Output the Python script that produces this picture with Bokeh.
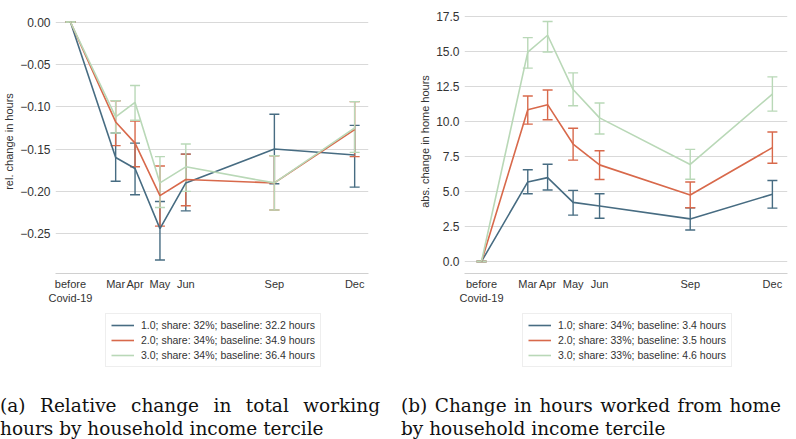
from bokeh.plotting import figure
from bokeh.models import (ColumnDataSource, Whisker, TeeHead, Legend, LegendItem,
                          FixedTicker, Range1d, Div)
from bokeh.layouts import column, row
from bokeh.embed import file_html
from bokeh.resources import INLINE

# ---------------- data ----------------
x_days = [0, 49, 70, 97, 125, 221, 308]
x_labels = ["before\nCovid-19", "Mar", "Apr", "May", "Jun", "Sep", "Dec"]

# (a) relative change in total working hours
rel_1 = [0.0, -0.160, -0.173, -0.244, -0.190, -0.150, -0.157]
rel_1_lo = [0.0, -0.188, -0.204, -0.281, -0.223, -0.191, -0.195]
rel_1_hi = [0.0, -0.131, -0.143, -0.212, -0.156, -0.109, -0.122]
rel_2 = [0.0, -0.118, -0.143, -0.205, -0.186, -0.190, -0.127]
rel_2_lo = [0.0, -0.146, -0.171, -0.241, -0.217, -0.222, -0.159]
rel_2_hi = [0.0, -0.093, -0.117, -0.170, -0.156, -0.158, -0.094]
rel_3 = [0.0, -0.112, -0.095, -0.190, -0.171, -0.190, -0.125]
rel_3_lo = [0.0, -0.131, -0.116, -0.219, -0.200, -0.222, -0.154]
rel_3_hi = [0.0, -0.093, -0.075, -0.159, -0.144, -0.158, -0.094]

# (b) absolute change in home hours
abs_1 = [0.0, 5.68, 5.99, 4.22, 3.96, 3.04, 4.80]
abs_1_lo = [0.0, 4.84, 5.11, 3.31, 3.09, 2.25, 3.81]
abs_1_hi = [0.0, 6.55, 6.95, 5.08, 4.84, 3.84, 5.78]
abs_2 = [0.0, 10.84, 11.20, 8.39, 6.90, 4.75, 8.13]
abs_2_lo = [0.0, 9.81, 10.12, 7.24, 5.85, 3.84, 7.02]
abs_2_hi = [0.0, 11.82, 12.25, 9.52, 7.91, 5.68, 9.25]
abs_3 = [0.0, 14.96, 16.16, 12.28, 10.26, 6.93, 11.96]
abs_3_lo = [0.0, 13.81, 14.96, 11.12, 9.11, 5.87, 10.74]
abs_3_hi = [0.0, 15.99, 17.14, 13.47, 11.32, 8.01, 13.19]

legend_a = ["1.0; share: 32%; baseline: 32.2 hours",
            "2.0; share: 34%; baseline: 34.9 hours",
            "3.0; share: 34%; baseline: 36.4 hours"]
legend_b = ["1.0; share: 34%; baseline: 3.4 hours",
            "2.0; share: 33%; baseline: 3.5 hours",
            "3.0; share: 33%; baseline: 4.6 hours"]

yticks_a = [0.0, -0.05, -0.10, -0.15, -0.20, -0.25]
yticks_b = [0.0, 2.5, 5.0, 7.5, 10.0, 12.5, 15.0, 17.5]

colors = ["#476c82", "#d8694b", "#b9d8b7"]

FONT = "Liberation Sans"
H_MAIN = 310
FRAME_BOTTOM = 273
H_LEG = 62
NAN = float("nan")


def make_panel(width, xr, yr, yticks, yfmt, ylabel, series, labels,
               left, right, leg_x):
    p = figure(width=width, height=H_MAIN, output_backend="svg",
               toolbar_location=None, x_range=Range1d(*xr), y_range=Range1d(*yr),
               min_border_left=left, min_border_right=right, min_border_top=9,
               min_border_bottom=H_MAIN - FRAME_BOTTOM)
    p.outline_line_color = None
    p.background_fill_color = "white"
    p.border_fill_color = "white"
    p.xgrid.visible = False
    p.ygrid.grid_line_color = "#d9d9d9"
    p.ygrid.grid_line_width = 1

    p.xaxis.ticker = FixedTicker(ticks=x_days)
    p.xaxis.major_label_overrides = {x: l for x, l in zip(x_days, x_labels)}
    p.xaxis.axis_line_color = "#d0d0d0"
    p.xaxis.axis_line_width = 1
    p.xaxis.major_tick_line_color = None
    p.xaxis.minor_tick_line_color = None
    p.xaxis.major_tick_out = 0
    p.xaxis.major_tick_in = 0
    p.xaxis.minor_tick_out = 0
    p.xaxis.major_label_text_font = FONT
    p.xaxis.major_label_text_font_size = "11px"
    p.xaxis.major_label_text_color = "#333333"
    p.xaxis.major_label_standoff = 4

    p.yaxis.ticker = FixedTicker(ticks=yticks)
    p.yaxis.major_label_overrides = {t: yfmt(t) for t in yticks}
    p.yaxis.axis_line_color = None
    p.yaxis.major_tick_line_color = None
    p.yaxis.minor_tick_line_color = None
    p.yaxis.major_tick_out = 0
    p.yaxis.major_tick_in = 0
    p.yaxis.minor_tick_out = 0
    p.yaxis.major_label_text_font = FONT
    p.yaxis.major_label_text_font_size = "12px"
    p.yaxis.major_label_text_color = "#333333"
    p.yaxis.major_label_standoff = 5
    p.yaxis.axis_label = ylabel
    p.yaxis.axis_label_text_font = FONT
    p.yaxis.axis_label_text_font_size = "11px"
    p.yaxis.axis_label_text_font_style = "normal"
    p.yaxis.axis_label_text_color = "#333333"
    p.yaxis.axis_label_standoff = 2

    for (y, lo, hi), c in zip(series, colors):
        src = ColumnDataSource(dict(x=x_days, y=y, lo=lo, hi=hi))
        p.line("x", "y", source=src, line_color=c, line_width=1.6)
        w = Whisker(base="x", lower="lo", upper="hi", source=src,
                    line_color=c, line_width=1.4,
                    upper_head=TeeHead(size=10, line_color=c, line_width=1.4),
                    lower_head=TeeHead(size=10, line_color=c, line_width=1.4))
        p.add_layout(w)

    # legend panel below the chart (its frame is aligned with the chart's frame)
    q = figure(width=width, height=H_LEG, output_backend="svg",
               toolbar_location=None, x_range=Range1d(0, 1), y_range=Range1d(0, 1),
               x_axis_type=None, y_axis_type=None,
               min_border_left=0, min_border_right=0, min_border_top=0,
               min_border_bottom=0)
    q.outline_line_color = None
    q.grid.visible = False
    items = []
    for c, lab in zip(colors, labels):
        r = q.line(x=[NAN, NAN], y=[NAN, NAN], line_color=c, line_width=1.6)
        items.append(LegendItem(label=lab, renderers=[r]))
    leg = Legend(items=items, location=(leg_x, 5), orientation="vertical",
                 label_text_font=FONT, label_text_font_size="10.5px",
                 label_text_color="#333333", border_line_color="#dddddd",
                 border_line_width=1, glyph_width=23, glyph_height=12,
                 label_height=12, spacing=3, padding=5, margin=0,
                 label_standoff=7, background_fill_alpha=1.0)
    q.add_layout(leg, "center")
    return column(p, q, spacing=0)


def fmt2(t):
    return "0.00" if t == 0 else ("\u2212%.2f" % abs(t))


def fmt1(t):
    return "%.1f" % t


pa = make_panel(400, (-16.2, 323.0), (-0.297, 0.0148), yticks_a, fmt2,
                "rel. change in hours",
                [(rel_1, rel_1_lo, rel_1_hi), (rel_2, rel_2_lo, rel_2_hi),
                 (rel_3, rel_3_lo, rel_3_hi)], legend_a, 54, 32, 50)
pb = make_panel(396, (-18.0, 324.0), (-0.86, 18.0), yticks_b, fmt1,
                "abs. change in home hours",
                [(abs_1, abs_1_lo, abs_1_hi), (abs_2, abs_2_lo, abs_2_hi),
                 (abs_3, abs_3_lo, abs_3_hi)], legend_b, 64, 9, 58)

cap_style = ("font-family:'DejaVu Serif',serif;font-size:18.5px;"
             "line-height:23px;color:#111;")
line1 = "style='text-align:justify;text-align-last:justify;white-space:nowrap'"
cap_a = Div(text=(
    "<div style=\"" + cap_style + "width:380px\">"
    "<div " + line1 + ">(a) Relative change in total working</div>"
    "<div style='white-space:nowrap'>hours by household income tercile</div></div>"),
    width=400, height=44, margin=(22, 0, 0, 0))
cap_b = Div(text=(
    "<div style=\"" + cap_style + "width:380px\">"
    "<div " + line1 + ">(b) Change in hours worked from home</div>"
    "<div style='white-space:nowrap'>by household income tercile</div></div>"),
    width=392, height=44, margin=(22, 0, 0, 1))

layout = column(row(pa, pb, spacing=0), row(cap_a, cap_b, spacing=0),
                spacing=0)

open("out.html", "w").write(file_html(layout, INLINE))
